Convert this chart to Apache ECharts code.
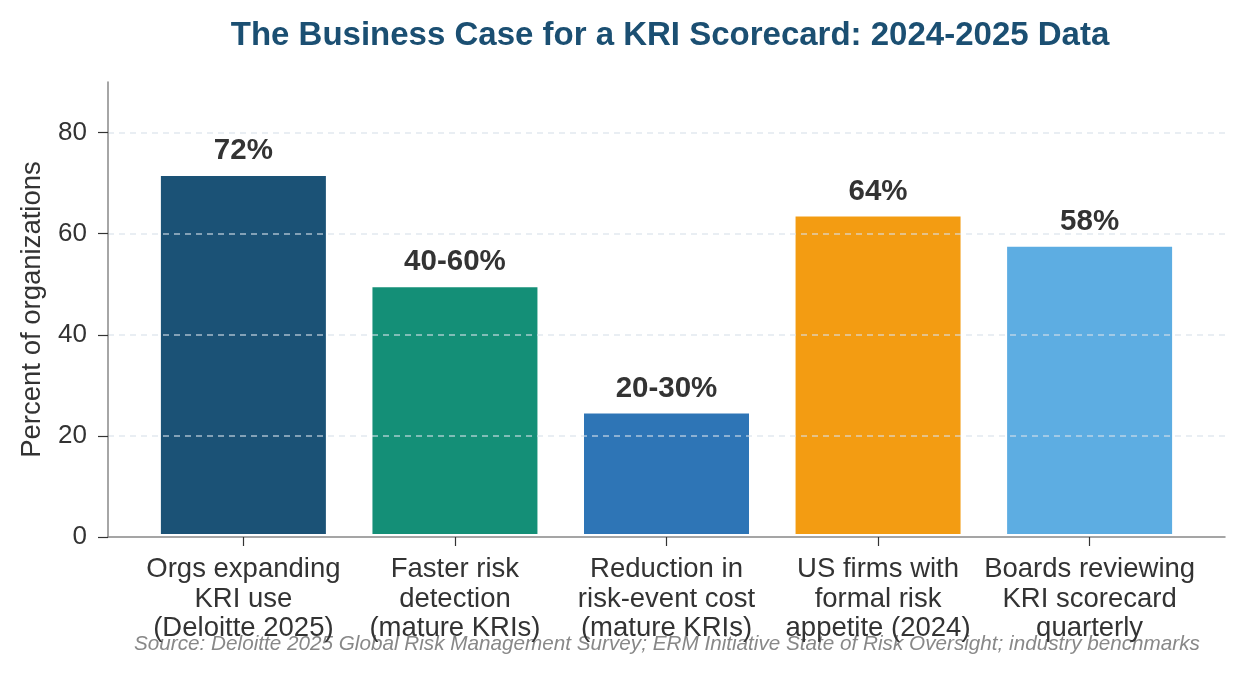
<!DOCTYPE html>
<html>
<head>
<meta charset="utf-8">
<script src="https://cdn.jsdelivr.net/npm/echarts@6/dist/echarts.min.js"></script>
<style>
  html, body { margin: 0; padding: 0; background: #fff; }
  #chart { width: 1245px; height: 675px; }
</style>
</head>
<body>
<div id="chart"></div>
<script>
  // chart data
  const categories = [
    'Orgs expanding\nKRI use\n(Deloitte 2025)',
    'Faster risk\ndetection\n(mature KRIs)',
    'Reduction in\nrisk-event cost\n(mature KRIs)',
    'US firms with\nformal risk\nappetite (2024)',
    'Boards reviewing\nKRI scorecard\nquarterly'
  ];
  const values = [72, 50, 25, 64, 58];
  const valueLabels = ['72%', '40-60%', '20-30%', '64%', '58%'];
  const barColors = ['#1b5276', '#148f77', '#2e75b6', '#f39c12', '#5dade2'];
  const yTicks = [0, 20, 40, 60, 80];

  const fontFamily = '"Liberation Sans", Arial, sans-serif';
  let myChart = echarts.init(document.getElementById('chart'));

  let option = {
    backgroundColor: '#fff',
    animation: false,
    title: {
      text: 'The Business Case for a KRI Scorecard: 2024-2025 Data',
      left: 665,
      top: 14,
      textAlign: 'center',
      textStyle: { color: '#1b4f72', fontSize: 33, fontWeight: 'bold', fontFamily: fontFamily }
    },
    grid: { left: 108, right: 20, top: 82, bottom: 138, containLabel: false },
    xAxis: {
      type: 'value',
      min: -0.64,
      max: 4.64,
      z: 10,
      axisLine: { show: true, onZero: false, lineStyle: { color: '#888', width: 1.5 } },
      axisTick: { show: true, customValues: [0, 1, 2, 3, 4], length: 9, lineStyle: { color: '#333', width: 1.2 } },
      axisLabel: {
        customValues: [0, 1, 2, 3, 4],
        formatter: v => categories[Math.round(v)],
        color: '#333', fontSize: 27.5, lineHeight: 29.5, margin: 18, fontFamily: fontFamily
      },
      splitLine: { show: false }
    },
    yAxis: {
      type: 'value',
      min: 0,
      max: 90,
      z: 10,
      name: 'Percent of organizations',
      nameLocation: 'middle',
      nameGap: 62,
      nameTextStyle: { color: '#333', fontSize: 27.5, fontFamily: fontFamily },
      axisLine: { show: true, onZero: false, lineStyle: { color: '#888', width: 1.5 } },
      axisTick: { show: true, customValues: yTicks, length: 10, lineStyle: { color: '#333', width: 1.2 } },
      axisLabel: { customValues: yTicks, color: '#333', fontSize: 26, margin: 21, fontFamily: fontFamily },
      splitLine: { show: false }
    },
    series: [{
      type: 'bar',
      barWidth: 171,
      data: values.map((v, i) => ({ value: [i, v], itemStyle: { color: barColors[i] } })),
      itemStyle: { borderColor: '#fff', borderWidth: 3 },
      label: {
        show: true,
        position: 'top',
        distance: 7,
        formatter: p => valueLabels[p.dataIndex],
        color: '#333', fontSize: 29.5, fontWeight: 'bold', fontFamily: fontFamily
      },
      markLine: {
        silent: true,
        symbol: 'none',
        label: { show: false },
        lineStyle: { type: [6, 5], color: 'rgba(215,224,232,0.75)', width: 1.5 },
        data: yTicks.slice(1).map(t => ({ yAxis: t }))
      }
    }],
    graphic: [{
      type: 'text',
      x: 667,
      y: 644,
      style: {
        text: 'Source: Deloitte 2025 Global Risk Management Survey; ERM Initiative State of Risk Oversight; industry benchmarks',
        align: 'center',
        verticalAlign: 'middle',
        fill: '#888', fontSize: 20.7, fontStyle: 'italic', fontFamily: fontFamily
      }
    }]
  };

  myChart.setOption(option);
  window.addEventListener('resize', function () { myChart.resize() });
</script>
</body>
</html>
